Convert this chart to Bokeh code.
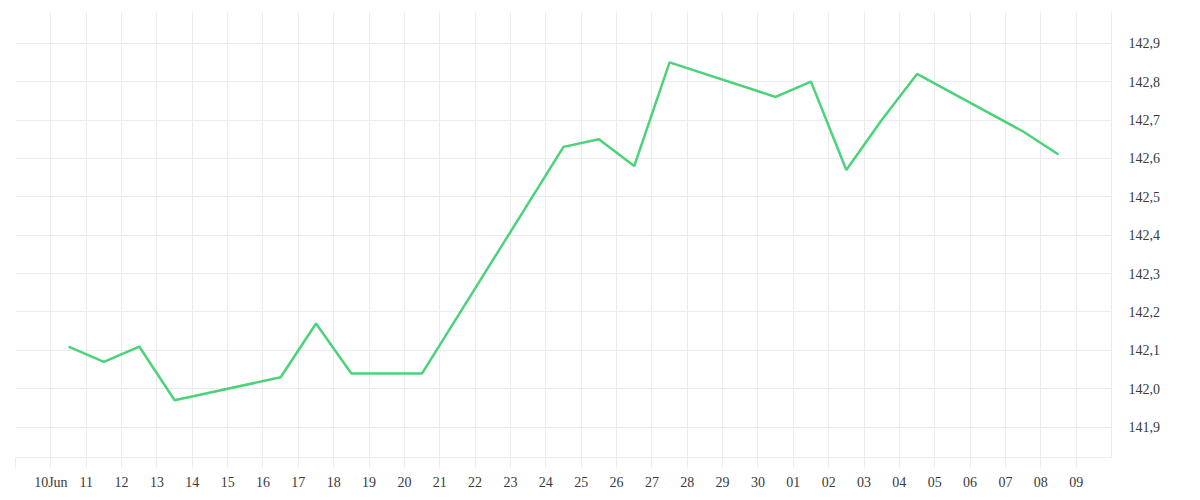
import pandas as pd
from bokeh.plotting import figure
from bokeh.models import Range1d, FixedTicker, CustomJSTickFormatter, ColumnDataSource
from bokeh.embed import file_html
from bokeh.resources import INLINE

# ---- data ----
timestamps = [
    "2025-06-10 12:00", "2025-06-11 12:00", "2025-06-12 12:00", "2025-06-13 12:00",
    "2025-06-16 12:00", "2025-06-17 12:00", "2025-06-18 12:00", "2025-06-19 12:00",
    "2025-06-20 12:00", "2025-06-24 12:00", "2025-06-25 12:00", "2025-06-26 12:00",
    "2025-06-27 12:00", "2025-06-30 12:00", "2025-07-01 12:00", "2025-07-02 12:00",
    "2025-07-03 12:00", "2025-07-04 12:00", "2025-07-07 12:00", "2025-07-08 12:00",
]
values = [
    142.11, 142.07, 142.11, 141.97,
    142.03, 142.17, 142.04, 142.04,
    142.04, 142.63, 142.65, 142.58,
    142.85, 142.76, 142.80, 142.57,
    142.70, 142.82, 142.67, 142.61,
]
tick_dates = pd.date_range("2025-06-09", "2025-07-09", freq="D")
tick_labels = [""] + ["10Jun"] + [d.strftime("%d") for d in tick_dates[2:]]
y_ticks = [141.9, 142.0, 142.1, 142.2, 142.3, 142.4, 142.5, 142.6, 142.7, 142.8, 142.9]

origin = tick_dates[0]
day = pd.Timedelta(days=1)
xs = [(pd.Timestamp(t) - origin) / day for t in timestamps]
xticks = [(d - origin) / day for d in tick_dates]
x_end = (pd.Timestamp("2025-07-10") - origin) / day

GRID = "#ebebeb"
FONT = "Liberation Serif"
TEXT = "#3a3a3a"

p = figure(width=1192, height=492, output_backend="svg", toolbar_location=None,
           x_range=Range1d(xticks[0], x_end), y_range=Range1d(141.821, 142.98),
           x_axis_location="below", y_axis_location="right",
           min_border_left=15, min_border_right=81, min_border_top=12, min_border_bottom=34)
p.outline_line_color = None
p.background_fill_color = "white"
p.border_fill_color = "white"

src = ColumnDataSource(dict(x=xs, y=values))
p.line("x", "y", source=src, line_color="#4bd37b", line_width=2.5)

xa = p.xaxis[0]
xa.ticker = FixedTicker(ticks=xticks)
xa.major_label_overrides = {float(t): l for t, l in zip(xticks, tick_labels)}
xa.axis_line_color = GRID
xa.major_tick_line_color = GRID
xa.major_tick_out = 10
xa.major_tick_in = 0
xa.minor_tick_line_color = None
xa.major_label_standoff = 7
xa.major_label_text_font = FONT
xa.major_label_text_font_size = "14px"
xa.major_label_text_color = TEXT

ya = p.yaxis[0]
ya.ticker = FixedTicker(ticks=y_ticks)
ya.formatter = CustomJSTickFormatter(code="return tick.toFixed(1).replace('.', ',');")
ya.axis_line_color = GRID
ya.major_tick_line_color = None
ya.major_tick_out = 0
ya.major_tick_in = 0
ya.minor_tick_line_color = None
ya.major_label_standoff = 17
ya.major_label_text_font = FONT
ya.major_label_text_font_size = "14px"
ya.major_label_text_color = TEXT

p.xgrid.grid_line_color = GRID
p.ygrid.grid_line_color = GRID
p.xgrid.ticker = FixedTicker(ticks=xticks)
p.ygrid.ticker = FixedTicker(ticks=y_ticks)

open("out.html", "w").write(file_html(p, INLINE))
